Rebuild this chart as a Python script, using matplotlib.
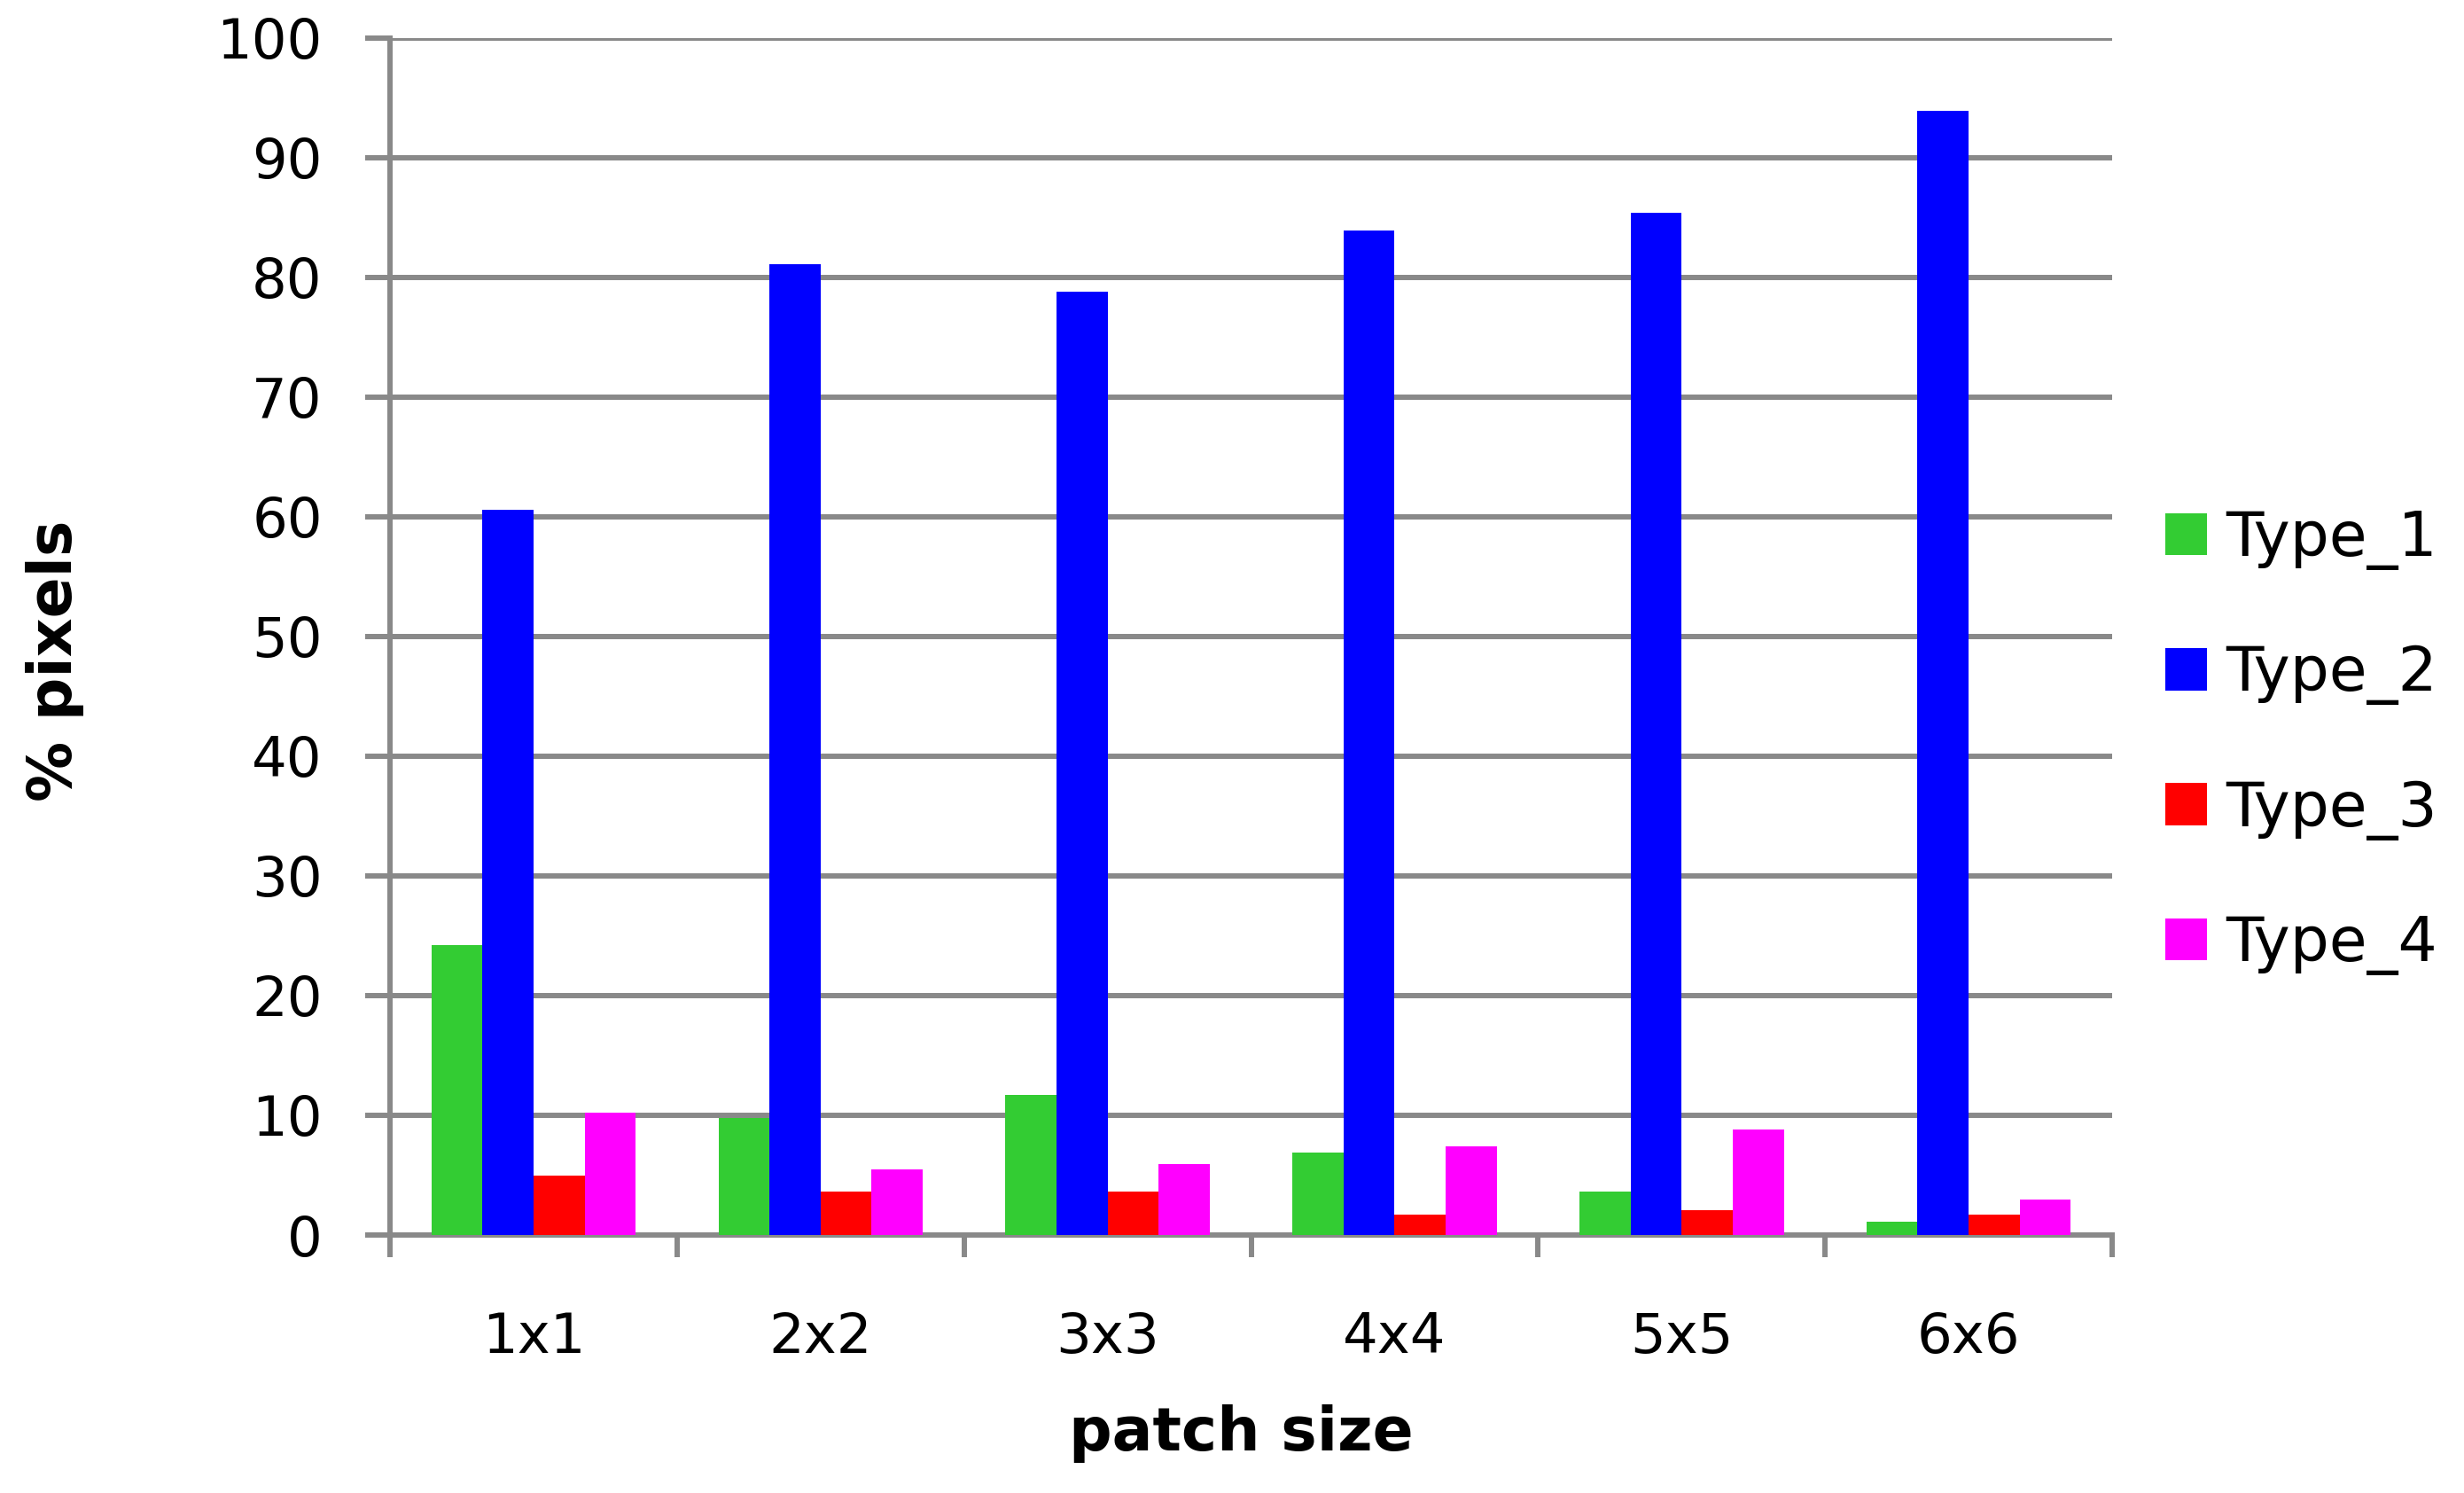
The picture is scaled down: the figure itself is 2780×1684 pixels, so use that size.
import numpy as np
import matplotlib
matplotlib.use("Agg")
import matplotlib.pyplot as plt

# values
patch_sizes = ["1x1", "2x2", "3x3", "4x4", "5x5", "6x6"]
type_1 = [24.2, 9.8, 11.7, 6.9, 3.6, 1.1]
type_2 = [60.6, 81.1, 78.8, 83.9, 85.4, 93.9]
type_3 = [5.0, 3.6, 3.6, 1.7, 2.1, 1.7]
type_4 = [10.2, 5.5, 5.9, 7.4, 8.8, 3.0]
series_names = ["Type_1", "Type_2", "Type_3", "Type_4"]
colors = ["#33cc33", "#0000ff", "#ff0000", "#ff00ff"]

grid_color = "#898989"

fig = plt.figure(figsize=(27.8, 16.84), dpi=100)
ax = fig.add_axes([0.1583, 0.1728, 0.6989, 0.8017])

x = np.arange(len(patch_sizes))
bar_w = 0.178
series = [type_1, type_2, type_3, type_4]
for i, (vals, name, c) in enumerate(zip(series, series_names, colors)):
    offset = (i - 1.5) * bar_w
    ax.bar(x + offset, vals, width=bar_w, color=c, label=name, zorder=3)

ax.set_xlim(-0.5, len(patch_sizes) - 0.5)
ax.set_ylim(0, 100)
ax.set_yticks(np.arange(0, 101, 10))
ax.set_xticks(x)
ax.set_xticklabels(patch_sizes)
ax.set_xticks(np.arange(-0.5, len(patch_sizes)), minor=True)

ax.grid(axis="y", color=grid_color, linewidth=4.3, zorder=0)
ax.set_axisbelow(True)
for side in ["top", "right"]:
    ax.spines[side].set_visible(False)
for side in ["left", "bottom"]:
    ax.spines[side].set_color(grid_color)
    ax.spines[side].set_linewidth(4.3)

ax.tick_params(axis="y", which="major", length=20, width=4.3, color=grid_color,
               pad=35, labelsize=45)
ax.tick_params(axis="x", which="major", length=0, pad=62, labelsize=45)
ax.tick_params(axis="x", which="minor", length=18, width=4.3, color=grid_color)

fig.text(62 / 2780, 1 - 745 / 1684, "% pixels", rotation=90, ha="center",
         va="center", fontsize=49, fontweight="bold")
fig.text(1400 / 2780, 1 - 1617 / 1684, "patch size", ha="center",
         va="center", fontsize=49, fontweight="bold")

ax.legend(loc="center left", bbox_to_anchor=(0.8788, 0.503),
          bbox_transform=fig.transFigure, frameon=False, fontsize=50,
          handlelength=0.68, handleheight=0.68, handletextpad=0.3,
          labelspacing=1.2, borderpad=0, borderaxespad=0)

fig.savefig("out.png", dpi=100, facecolor="white")
